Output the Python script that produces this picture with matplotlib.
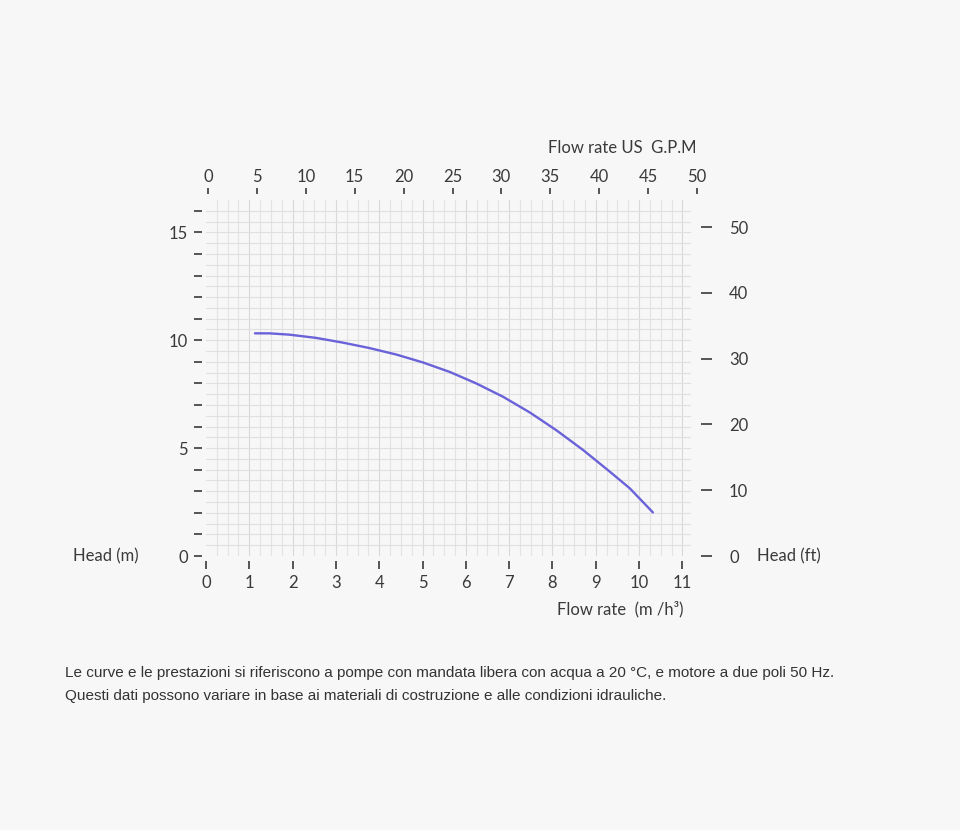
import matplotlib
matplotlib.use("Agg")
import matplotlib.pyplot as plt
import numpy as np
from matplotlib.ticker import FixedLocator

# Data
flow_m3h = [1.13, 1.46, 1.92, 2.54, 3.16, 3.77, 4.39, 5.01, 5.63, 6.24, 6.86,
            7.48, 8.09, 8.71, 9.33, 9.79, 10.32]
head_m = [10.32, 10.32, 10.26, 10.11, 9.89, 9.64, 9.34, 8.97, 8.53, 8.00, 7.38,
          6.65, 5.83, 4.91, 3.90, 3.13, 2.02]

bottom_ticks = list(range(0, 12))
left_ticks_major = [0, 5, 10, 15]
left_ticks_all = list(range(0, 17))
top_ticks = list(range(0, 51, 5))
right_ticks = list(range(0, 51, 10))

M_TO_FT = 3.28084

caption_lines = [
    "Le curve e le prestazioni si riferiscono a pompe con mandata libera con acqua a 20 °C, e motore a due poli 50 Hz.",
    "Questi dati possono variare in base ai materiali di costruzione e alle condizioni idrauliche.",
]

bg = "#f7f7f7"
tick_c = "#555555"
lab_c = "#3a3a3a"
fs = 12
fam = ["Lato", "DejaVu Sans"]
plt.rcParams["font.family"] = fam

PT = 0.72  # points per pixel at 100 dpi

fig = plt.figure(figsize=(9.6, 8.3), dpi=100, facecolor=bg)
ax = fig.add_axes([206/960, 1-556/830, (691-206)/960, (556-200)/830])
ax.set_facecolor(bg)

xmax, ymax = 11.2, 16.5
ax.set_xlim(0, xmax)
ax.set_ylim(0, ymax)

# grid
for x in np.arange(0.25, xmax, 0.25):
    ax.axvline(x, color="#d8d8d8" if abs(x - round(x)) < 1e-6 else "#e3e3e3", lw=0.8, zorder=0)
for y in np.arange(0.5, ymax, 0.5):
    ax.axhline(y, color="#e0e0e0", lw=0.8, zorder=0)

ax.plot(flow_m3h, head_m, color="#6a62d8", lw=1.7, zorder=3,
        solid_joinstyle="round", solid_capstyle="round")

for s in ax.spines.values():
    s.set_visible(False)

ax.xaxis.set_major_locator(FixedLocator(bottom_ticks))
ax.yaxis.set_major_locator(FixedLocator(left_ticks_all))
ax.set_yticklabels([str(v) if v in left_ticks_major else "" for v in left_ticks_all])
ax.spines["bottom"].set_position(("outward", 4.5 * PT))
ax.spines["left"].set_position(("outward", 4 * PT))
ax.tick_params(axis="x", direction="out", length=8 * PT, width=1.4, color=tick_c,
               pad=6 * PT, labelsize=fs, labelcolor=lab_c)
ax.tick_params(axis="y", direction="out", length=8 * PT, width=1.4, color=tick_c,
               pad=6 * PT, labelsize=fs, labelcolor=lab_c)

# top axis (US GPM), spans 0..50 as in the reference
axt = fig.add_axes([208/960, 1-556/830, (697-208)/960, (556-200)/830])
axt.patch.set_visible(False)
axt.set_xlim(0, 50)
axt.xaxis.set_major_locator(FixedLocator(top_ticks))
axt.xaxis.tick_top()
axt.set_yticks([])
for s in axt.spines.values():
    s.set_visible(False)
axt.spines["top"].set_position(("outward", 5.5 * PT))
axt.tick_params(axis="x", direction="out", length=6.5 * PT, width=1.4, color=tick_c,
                pad=2.5 * PT, labelsize=fs, labelcolor=lab_c)

# right axis (ft)
axr = ax.twinx()
axr.set_ylim(0, ymax * M_TO_FT)
axr.yaxis.set_major_locator(FixedLocator(right_ticks))
for s in axr.spines.values():
    s.set_visible(False)
axr.spines["right"].set_position(("outward", 10 * PT))
axr.tick_params(axis="y", direction="out", length=11 * PT, width=1.4, color=tick_c,
                pad=17 * PT, labelsize=fs, labelcolor=lab_c)

# axis labels
fig.text(73/960, 1-556/830, "Head (m)", ha="left", va="center", fontsize=fs, color=lab_c)
fig.text(757/960, 1-556/830, "Head (ft)", ha="left", va="center", fontsize=fs, color=lab_c)
fig.text(697/960, 1-148/830, "Flow rate US  G.P.M", ha="right", va="center", fontsize=fs, color=lab_c)
fig.text(557/960, 1-609/830, "Flow rate  (m /h³)", ha="left", va="center", fontsize=fs, color=lab_c)

for i, line in enumerate(caption_lines):
    fig.text(65/960, 1-(673 + 23 * i)/830, line, ha="left", va="center", fontsize=11,
             color="#333333", family=["Liberation Sans", "DejaVu Sans"])

fig.savefig("out.png", dpi=100, facecolor=bg)
